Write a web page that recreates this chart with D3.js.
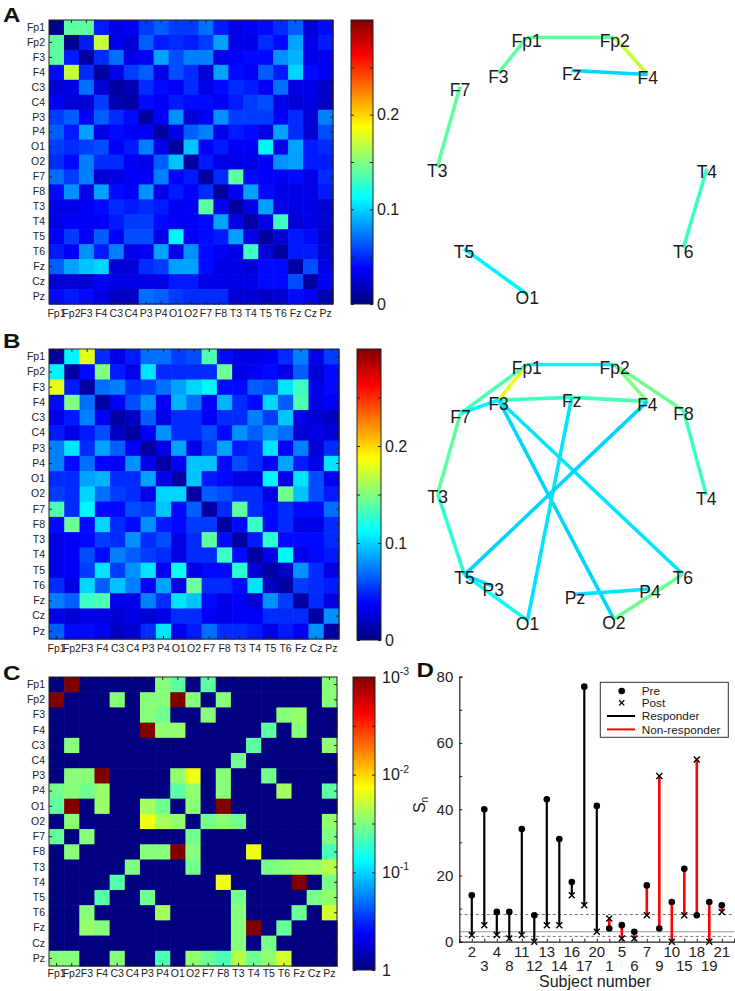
<!DOCTYPE html>
<html><head><meta charset="utf-8">
<script src="https://cdn.jsdelivr.net/npm/d3@7"></script>
<style>
body{margin:0;background:#fff}
svg{display:block}
text{font-family:"Liberation Sans",Arial,Helvetica,sans-serif;fill:#1a1a1a}
</style>
</head><body>
<svg id="chart" width="735" height="991"></svg>
<script>
// ---------------- DATA ----------------
const channels = ["Fp1","Fp2","F3","F4","C3","C4","P3","P4","O1","O2","F7","F8","T3","T4","T5","T6","Fz","Cz","Pz"];

// Panel A matrix (0 - 0.3)
const matrixA = [
[0.005,0.14,0.14,0.045,0.03,0.035,0.055,0.065,0.055,0.055,0.07,0.045,0.03,0.035,0.04,0.05,0.065,0.025,0.04],
[0.14,0.005,0.045,0.17,0.03,0.025,0.065,0.045,0.05,0.045,0.055,0.085,0.03,0.03,0.05,0.04,0.085,0.03,0.045],
[0.14,0.045,0.01,0.05,0.07,0.03,0.035,0.085,0.06,0.075,0.075,0.03,0.035,0.04,0.04,0.08,0.09,0.03,0.035],
[0.04,0.17,0.05,0.01,0.03,0.055,0.065,0.03,0.06,0.05,0.025,0.085,0.04,0.035,0.065,0.045,0.1,0.04,0.035],
[0.025,0.03,0.07,0.025,0.01,0.015,0.05,0.04,0.035,0.05,0.03,0.04,0.05,0.045,0.035,0.07,0.03,0.03,0.02],
[0.035,0.025,0.025,0.055,0.015,0.01,0.04,0.035,0.045,0.04,0.04,0.035,0.045,0.055,0.06,0.03,0.025,0.03,0.02],
[0.055,0.065,0.035,0.065,0.05,0.04,0.01,0.035,0.08,0.025,0.035,0.08,0.055,0.055,0.055,0.035,0.05,0.025,0.075],
[0.065,0.045,0.085,0.03,0.04,0.035,0.035,0.01,0.03,0.065,0.075,0.03,0.045,0.04,0.03,0.085,0.05,0.025,0.06],
[0.055,0.05,0.055,0.06,0.035,0.045,0.075,0.03,0.01,0.095,0.035,0.045,0.035,0.035,0.11,0.03,0.085,0.045,0.05],
[0.05,0.04,0.075,0.05,0.05,0.035,0.03,0.065,0.095,0.01,0.045,0.03,0.03,0.03,0.035,0.08,0.085,0.045,0.045],
[0.07,0.055,0.075,0.025,0.03,0.035,0.035,0.075,0.035,0.045,0.01,0.05,0.14,0.04,0.035,0.035,0.04,0.03,0.05],
[0.04,0.08,0.03,0.085,0.04,0.035,0.08,0.03,0.045,0.035,0.05,0.01,0.035,0.085,0.04,0.03,0.03,0.03,0.045],
[0.03,0.03,0.035,0.04,0.05,0.045,0.05,0.045,0.035,0.035,0.14,0.035,0.01,0.03,0.085,0.03,0.03,0.03,0.025],
[0.03,0.035,0.035,0.035,0.045,0.055,0.055,0.04,0.035,0.035,0.04,0.085,0.03,0.01,0.03,0.13,0.025,0.03,0.025],
[0.035,0.055,0.035,0.065,0.035,0.06,0.06,0.03,0.11,0.035,0.04,0.045,0.085,0.03,0.01,0.025,0.045,0.04,0.02],
[0.045,0.035,0.08,0.045,0.075,0.03,0.035,0.085,0.03,0.08,0.04,0.035,0.03,0.13,0.025,0.01,0.045,0.045,0.025],
[0.065,0.085,0.095,0.1,0.025,0.025,0.05,0.055,0.085,0.085,0.04,0.03,0.03,0.025,0.04,0.04,0.01,0.06,0.03],
[0.025,0.025,0.025,0.035,0.03,0.03,0.03,0.03,0.045,0.045,0.03,0.03,0.03,0.03,0.04,0.04,0.06,0.01,0.035],
[0.04,0.045,0.04,0.03,0.02,0.02,0.07,0.065,0.055,0.05,0.05,0.05,0.025,0.025,0.02,0.025,0.04,0.035,0.015]
];

// Panel B matrix (0 - 0.3)
const matrixB = [
[0.01,0.11,0.18,0.05,0.03,0.045,0.07,0.07,0.055,0.06,0.135,0.04,0.03,0.03,0.035,0.05,0.075,0.03,0.055],
[0.11,0.01,0.04,0.15,0.045,0.03,0.105,0.05,0.05,0.05,0.05,0.145,0.03,0.035,0.04,0.03,0.065,0.025,0.04],
[0.18,0.045,0.01,0.07,0.075,0.05,0.055,0.07,0.085,0.1,0.11,0.04,0.04,0.065,0.06,0.105,0.13,0.03,0.04],
[0.04,0.15,0.07,0.01,0.035,0.06,0.08,0.035,0.09,0.07,0.035,0.09,0.05,0.04,0.1,0.065,0.135,0.03,0.035],
[0.03,0.045,0.075,0.035,0.01,0.02,0.065,0.03,0.05,0.05,0.035,0.05,0.05,0.075,0.055,0.095,0.03,0.025,0.02],
[0.045,0.03,0.045,0.06,0.02,0.01,0.035,0.08,0.05,0.05,0.06,0.04,0.08,0.065,0.08,0.07,0.025,0.03,0.025],
[0.075,0.105,0.05,0.085,0.065,0.035,0.01,0.03,0.085,0.03,0.055,0.085,0.045,0.05,0.105,0.035,0.075,0.025,0.05],
[0.075,0.04,0.07,0.035,0.035,0.08,0.03,0.01,0.035,0.095,0.095,0.04,0.06,0.05,0.035,0.085,0.045,0.03,0.105],
[0.05,0.05,0.085,0.09,0.05,0.05,0.085,0.03,0.01,0.095,0.045,0.04,0.03,0.03,0.11,0.03,0.105,0.06,0.035],
[0.055,0.05,0.1,0.07,0.055,0.05,0.03,0.1,0.1,0.01,0.065,0.06,0.05,0.05,0.03,0.145,0.095,0.06,0.045],
[0.135,0.05,0.11,0.04,0.04,0.06,0.055,0.095,0.04,0.065,0.01,0.05,0.14,0.05,0.04,0.05,0.04,0.04,0.07],
[0.04,0.145,0.04,0.1,0.05,0.04,0.08,0.045,0.04,0.055,0.055,0.01,0.04,0.13,0.04,0.05,0.03,0.03,0.05],
[0.03,0.035,0.04,0.055,0.05,0.08,0.05,0.06,0.03,0.05,0.14,0.04,0.01,0.045,0.125,0.04,0.04,0.04,0.05],
[0.03,0.035,0.06,0.04,0.075,0.065,0.055,0.05,0.03,0.05,0.05,0.13,0.04,0.01,0.03,0.11,0.03,0.04,0.045],
[0.03,0.035,0.055,0.105,0.055,0.08,0.105,0.035,0.115,0.03,0.04,0.04,0.125,0.025,0.01,0.02,0.08,0.05,0.03],
[0.05,0.03,0.1,0.065,0.095,0.075,0.035,0.085,0.03,0.145,0.05,0.05,0.04,0.105,0.02,0.01,0.055,0.05,0.045],
[0.075,0.065,0.13,0.135,0.03,0.03,0.075,0.05,0.105,0.095,0.04,0.03,0.035,0.025,0.08,0.055,0.01,0.05,0.03],
[0.03,0.025,0.03,0.03,0.025,0.03,0.025,0.03,0.05,0.05,0.035,0.03,0.035,0.035,0.05,0.05,0.05,0.01,0.08],
[0.065,0.04,0.04,0.035,0.02,0.025,0.05,0.105,0.035,0.045,0.07,0.05,0.05,0.045,0.03,0.045,0.035,0.08,0.01]
];

// Panel C p-values (1 = not significant)
const pValuesC = [
[1,.001,1,1,1,1,1,.03,.04,1,.04,1,1,1,1,1,1,1,.03],
[.001,1,1,1,.03,1,.03,.03,.001,.03,1,.03,1,1,1,1,1,1,.03],
[1,1,1,1,1,1,.03,.035,1,1,.03,1,1,1,1,.03,.027,1,1],
[1,1,1,1,1,1,.001,.028,.028,1,1,1,1,1,.04,1,.03,1,1],
[1,.03,1,1,1,1,1,1,1,1,1,1,1,.04,1,1,1,1,.028],
[1,1,1,1,1,1,1,1,1,1,1,1,.035,1,1,1,1,1,1],
[1,.03,.03,.001,1,1,1,1,.028,.015,1,.03,1,1,.035,1,1,1,1],
[.035,.03,.035,.027,1,1,1,1,.04,.028,1,.03,1,1,1,.025,1,1,.04],
[.04,.001,1,.027,1,1,.025,.035,1,.03,1,.001,1,1,1,1,1,1,1],
[1,.03,1,1,1,1,.015,.025,.028,1,.035,.03,.035,1,1,1,1,1,.028],
[.038,1,.03,1,1,1,1,1,1,.035,1,1,1,1,1,1,1,1,.032],
[1,.03,1,1,1,1,.03,.03,.001,.03,1,1,1,.015,1,1,1,1,.045],
[1,1,1,1,1,.032,1,1,1,.035,1,1,1,1,.033,.03,.027,.027,.022],
[1,1,1,1,.042,1,1,1,1,1,1,.015,1,1,1,1,.001,1,.033],
[1,1,1,.042,1,1,.035,1,1,1,1,1,.035,1,1,1,1,.033,.028],
[1,1,.03,1,1,1,1,.025,1,1,1,1,.03,1,1,1,.037,1,.018],
[1,1,.027,.03,1,1,1,1,1,1,1,1,.03,.001,1,.037,1,1,1],
[1,1,1,1,1,1,1,1,1,1,1,1,.03,1,.033,1,1,1,1],
[.03,.03,1,1,.03,1,1,.045,1,.028,.036,.045,.022,.035,.028,.018,1,1,1]
];

// Colorbar ticks
const linearTicks = [0,0.05,0.1,0.15,0.2,0.25];
const linearTickLabels = {0:"0",0.1:"0.1",0.2:"0.2"};
const logTicks = [1,Math.pow(10,-0.5),0.1,Math.pow(10,-1.5),0.01,Math.pow(10,-2.5),0.001];
const logTickLabels = [{v:1,base:"1",exp:""},{v:0.1,base:"10",exp:"-1"},{v:0.01,base:"10",exp:"-2"},{v:0.001,base:"10",exp:"-3"}];

// Electrode layout (unit head circle)
const electrodeX = [-0.33,0.325,-0.54,0.57,-0.5,0.5,-0.58,0.59,-0.325,0.32,-0.825,0.84,-0.995,1.01,-0.795,0.835,0.005,0,0.03];
const electrodeY = [-0.955,-0.955,-0.69,-0.68,0,0,0.70,0.72,0.955,0.945,-0.59,-0.61,0.01,0.02,0.615,0.61,-0.71,0,0.76];
const shownA = ["Fp1","Fp2","F3","F4","Fz","F7","T3","T4","T5","T6","O1"];
const shownB = ["Fp1","Fp2","F3","F4","Fz","F7","F8","T3","T4","T5","T6","P3","P4","Pz","O1","O2"];
const edgesA = [["Fp1","Fp2"],["Fp1","F3"],["Fp2","F4"],["Fz","F4"],["F7","T3"],["T4","T6"],["T5","O1"]];
const edgesB = [["Fp1","F3"],["Fp1","Fp2"],["Fp1","F7"],["Fp2","F4"],["Fp2","F8"],["F7","F3"],["F3","Fz"],["Fz","F4"],
  ["F7","T3"],["F8","T4"],["T3","T5"],["T5","O1"],["T5","P3"],["F3","O2"],["F3","T6"],["Fz","O1"],["F4","T5"],
  ["O2","T6"],["Pz","P4"]];

// Panel D
const subjects = [2,3,4,8,11,12,13,14,16,17,20,1,5,6,7,9,10,15,18,19,21];
const preSn  = [14,40,9,9,34,8,43,31,18,77,41,4,5,3,17,4,12,22,8,12,11];
const postSn = [2,5,2,1,2,0,5,5,14,11,3,7,1,1,8,50,0,8,55,0,9];
const isResponder = [1,1,1,1,1,1,1,1,1,1,1,0,0,0,0,0,0,0,0,0,0];
const dashedLevels = [8.2,1.6];
const solidLevel = 3.0;
const yTicksD = [0,10,20,30,40,50,60,70,80];
const legendItems = ["Pre","Post","Responder","Non-responder"];

// ---------------- DRAWING ----------------
const svg = d3.select("#chart");
const jet = d3.scaleLinear().domain([0,0.125,0.375,0.625,0.875,1])
  .range(["#000080","#0000ff","#00ffff","#ffff00","#ff0000","#800000"])
  .interpolate(d3.interpolateRgb).clamp(true);
const linNorm = d3.scaleLinear().domain([0,0.3]).range([0,1]).clamp(true);
const colorLin = v => jet(linNorm(v));
const logNorm = d3.scaleLog().domain([1,0.001]).range([0,1]).clamp(true);
const colorLog = v => jet(logNorm(v));

const defs = svg.append("defs");
const grad = defs.append("linearGradient").attr("id","jetgrad").attr("x1",0).attr("y1",1).attr("x2",0).attr("y2",0);
[0,0.125,0.375,0.625,0.875,1].forEach(t=>grad.append("stop").attr("offset",t).attr("stop-color",jet(t)));

function panelLetter(txt,x,y){
  svg.append("text").attr("transform",`translate(${x},${y}) scale(1.15,1)`)
    .attr("font-size",21).attr("font-weight","bold").style("fill","#111").text(txt);
}

function drawHeatmap(matrix, color, box, pad){
  const g = svg.append("g");
  const x = d3.scaleBand().domain(channels).range([box.x, box.x+box.w]);
  const y = d3.scaleBand().domain(channels).range([box.y, box.y+box.h]);
  channels.forEach((r,i)=>channels.forEach((c,j)=>{
    g.append("rect").attr("x",x(c)).attr("y",y(r))
      .attr("width",x.bandwidth()+0.6).attr("height",y.bandwidth()+0.6)
      .attr("fill",color(matrix[i][j]));
  }));
  const ax = [
    g.append("g").attr("transform",`translate(0,${box.y+box.h})`).call(d3.axisBottom(x).tickSize(-3).tickPadding(pad)),
    g.append("g").attr("transform",`translate(${box.x},0)`).call(d3.axisLeft(y).tickSize(-3).tickPadding(4)),
    g.append("g").attr("transform",`translate(0,${box.y})`).call(d3.axisTop(x).tickSize(-3).tickFormat("")),
    g.append("g").attr("transform",`translate(${box.x+box.w},0)`).call(d3.axisRight(y).tickSize(-3).tickFormat(""))
  ];
  ax.forEach(a=>{
    a.select(".domain").remove();
    a.selectAll("line").attr("stroke","#222");
    a.selectAll("text").attr("font-size",10.5).style("fill","#222").attr("font-family",null);
  });
  g.append("rect").attr("x",box.x).attr("y",box.y).attr("width",box.w).attr("height",box.h)
    .attr("fill","none").attr("stroke","#222").attr("stroke-width",1);
}

function drawColorbar(box, scale, ticks, labelFn){
  const g = svg.append("g");
  g.append("rect").attr("x",box.x).attr("y",box.y).attr("width",box.w).attr("height",box.h).attr("fill","url(#jetgrad)");
  const r = g.append("g").attr("transform",`translate(${box.x+box.w},0)`)
    .call(d3.axisRight(scale).tickValues(ticks).tickSize(-3).tickFormat(""));
  const l = g.append("g").attr("transform",`translate(${box.x},0)`)
    .call(d3.axisLeft(scale).tickValues(ticks).tickSize(-3).tickFormat(""));
  [r,l].forEach(a=>{a.select(".domain").remove(); a.selectAll("line").attr("stroke","#222");});
  g.append("rect").attr("x",box.x).attr("y",box.y).attr("width",box.w).attr("height",box.h)
    .attr("fill","none").attr("stroke","#222").attr("stroke-width",1);
  labelFn(g, box.x+box.w);
}

// Panel A
panelLetter("A",3,21.7);
drawHeatmap(matrixA, colorLin, {x:49,y:20,w:284,h:284}, 6);
const cbA = d3.scaleLinear().domain([0,0.3]).range([304,20]);
drawColorbar({x:351,y:20,w:22,h:284}, cbA, linearTicks, (g,xr)=>{
  Object.keys(linearTickLabels).forEach(k=>{
    g.append("text").attr("x",xr+4).attr("y",cbA(+k)).attr("dy","0.36em").attr("font-size",16).text(linearTickLabels[k]);
  });
});

// Panel B
panelLetter("B",3,348.3);
drawHeatmap(matrixB, colorLin, {x:49,y:349,w:290,h:290}, 6);
const cbB = d3.scaleLinear().domain([0,0.3]).range([640,349]);
drawColorbar({x:357,y:349,w:24,h:291}, cbB, linearTicks, (g,xr)=>{
  Object.keys(linearTickLabels).forEach(k=>{
    g.append("text").attr("x",xr+4).attr("y",cbB(+k)).attr("dy","0.36em").attr("font-size",16).text(linearTickLabels[k]);
  });
});

// Panel C
panelLetter("C",3,679.5);
drawHeatmap(pValuesC, colorLog, {x:49,y:677,w:288,h:289}, 4);
const cbC = d3.scaleLog().domain([1,0.001]).range([970,677]);
drawColorbar({x:353,y:677,w:22,h:293}, cbC, logTicks, (g,xr)=>{
  logTickLabels.forEach(d=>{
    const t = g.append("text").attr("x",xr+7).attr("y",cbC(d.v)).attr("dy","0.36em").attr("font-size",16);
    t.append("tspan").text(d.base);
    if(d.exp) t.append("tspan").attr("font-size",10.5).attr("dy","-0.75em").text(d.exp);
  });
});

// Network diagrams
function drawNetwork(cx, cy, r, shown, edges, matrix){
  const g = svg.append("g");
  const sx = d3.scaleLinear().domain([-1,1]).range([cx-r,cx+r]);
  const sy = d3.scaleLinear().domain([-1,1]).range([cy-r,cy+r]);
  const idx = n => channels.indexOf(n);
  edges.forEach(([a,b])=>{
    const i=idx(a), j=idx(b);
    g.append("line").attr("x1",sx(electrodeX[i])).attr("y1",sy(electrodeY[i]))
      .attr("x2",sx(electrodeX[j])).attr("y2",sy(electrodeY[j]))
      .attr("stroke",colorLin(matrix[i][j])).attr("stroke-width",3.6).attr("stroke-linecap","butt");
  });
  shown.forEach(n=>{
    const i=idx(n);
    g.append("text").attr("x",sx(electrodeX[i])).attr("y",sy(electrodeY[i])+9.5)
      .attr("text-anchor","middle").attr("font-size",17.5).style("fill","#1a1a1a").text(n);
  });
}
drawNetwork(571,166,134.5,shownA,edgesA,matrixA);
drawNetwork(571,492.5,134,shownB,edgesB,matrixB);

// Panel D
panelLetter("D",416.5,676.7);
const gd = svg.append("g");
const xD = d3.scaleLinear().domain([0,22]).range([459.3,734.3]);
const yD = d3.scaleLinear().domain([0,80]).range([941.7,676.7]);
// reference lines
dashedLevels.forEach(v=>{
  gd.append("line").attr("x1",xD(0)).attr("x2",xD(22)).attr("y1",yD(v)).attr("y2",yD(v))
    .attr("stroke","#777").attr("stroke-width",1).attr("stroke-dasharray","3,2.5");
});
gd.append("line").attr("x1",xD(0)).attr("x2",xD(22)).attr("y1",yD(solidLevel)).attr("y2",yD(solidLevel))
  .attr("stroke","#999").attr("stroke-width",1.2);
// stems
subjects.forEach((s,i)=>{
  gd.append("line").attr("x1",xD(i+1)).attr("x2",xD(i+1)).attr("y1",yD(preSn[i])).attr("y2",yD(postSn[i]))
    .attr("stroke",isResponder[i]?"#000":"#ff0000").attr("stroke-width",isResponder[i]?2.2:2.6);
});
// markers
subjects.forEach((s,i)=>{
  gd.append("circle").attr("cx",xD(i+1)).attr("cy",yD(preSn[i])).attr("r",3.3).attr("fill","#000");
  const px=xD(i+1), py=yD(postSn[i]), h=3;
  gd.append("path").attr("d",`M${px-h},${py-h}L${px+h},${py+h}M${px-h},${py+h}L${px+h},${py-h}`)
    .attr("stroke","#000").attr("stroke-width",1.4);
});
// axes
const yAx = gd.append("g").attr("transform",`translate(${xD(0)},0)`)
  .call(d3.axisLeft(yD).tickValues(yTicksD).tickSize(-3).tickPadding(6).tickFormat(d=>d%20===0?d:""));
const xAx = gd.append("g").attr("transform",`translate(0,${yD(0)})`)
  .call(d3.axisBottom(xD).tickValues(d3.range(1,22)).tickSize(-3).tickFormat(""));
[yAx,xAx].forEach(a=>{
  a.select(".domain").attr("stroke","#222").attr("stroke-width",1.2);
  a.selectAll("line").attr("stroke","#222");
  a.selectAll("text").attr("font-size",15).style("fill","#222").attr("font-family",null);
});
subjects.forEach((s,i)=>{
  gd.append("text").attr("x",xD(i+1)).attr("y",i%2===0?956.7:971)
    .attr("text-anchor","middle").attr("font-size",15).style("fill","#222").text(s);
});
gd.append("text").attr("x",595).attr("y",987).attr("text-anchor","middle").attr("font-size",16).style("fill","#222").text("Subject number");
const yl = gd.append("text").attr("transform","translate(425,805) rotate(-90)").attr("text-anchor","middle").attr("font-size",16).style("fill","#222");
yl.append("tspan").text("S");
yl.append("tspan").attr("font-size",10).attr("dy","0.3em").text("n");
// legend
const lg = gd.append("g");
lg.append("rect").attr("x",600.3).attr("y",682.3).attr("width",128).attr("height",55)
  .attr("fill","#fff").attr("stroke","#333").attr("stroke-width",1);
const rowY = [691,702.8,716,729.4];
lg.append("circle").attr("cx",621.7).attr("cy",rowY[0]).attr("r",3.3).attr("fill","#000");
lg.append("path").attr("d",`M${621.7-2.6},${rowY[1]-2.6}L${621.7+2.6},${rowY[1]+2.6}M${621.7-2.6},${rowY[1]+2.6}L${621.7+2.6},${rowY[1]-2.6}`)
  .attr("stroke","#000").attr("stroke-width",1.3);
lg.append("line").attr("x1",607).attr("x2",635).attr("y1",rowY[2]).attr("y2",rowY[2]).attr("stroke","#000").attr("stroke-width",2);
lg.append("line").attr("x1",607).attr("x2",635).attr("y1",rowY[3]).attr("y2",rowY[3]).attr("stroke","#ff0000").attr("stroke-width",2);
legendItems.forEach((t,i)=>{
  lg.append("text").attr("x",641.7).attr("y",rowY[i]).attr("dy","0.36em").attr("font-size",11.8).style("fill","#222").text(t);
});
</script>
</body></html>
